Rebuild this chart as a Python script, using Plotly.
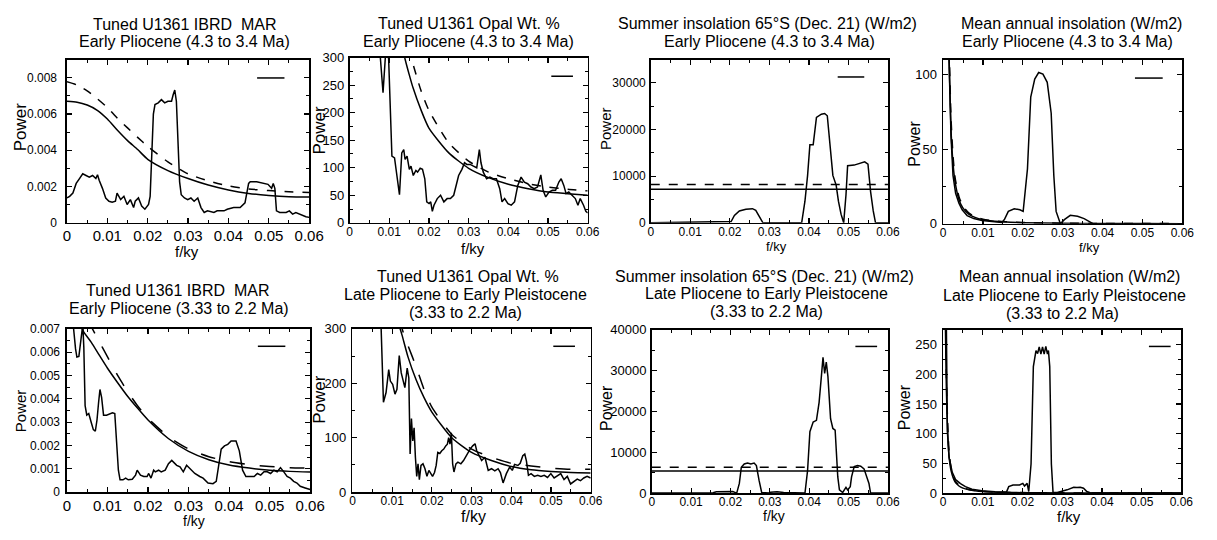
import plotly.graph_objects as go

W, H = 1217, 540
FONT = "Liberation Sans, Arial, sans-serif"

# ---------------- Panel 1: IBRD MAR, Early Pliocene ----------------
p1_freq = [0, 0.00065, 0.00146, 0.00228, 0.00309, 0.0039, 0.00472, 0.00553, 0.00634, 0.00715,
           0.00756, 0.00797, 0.00878, 0.00959, 0.0104, 0.0112, 0.012, 0.0124, 0.0133, 0.0141,
           0.0149, 0.0157, 0.0165, 0.0169, 0.0177, 0.0185, 0.0193, 0.0202, 0.0206, 0.021,
           0.0214, 0.0218, 0.0226, 0.0234, 0.0242, 0.025, 0.0259, 0.0263, 0.0267, 0.0271,
           0.0275, 0.0279, 0.0283, 0.0291, 0.0299, 0.0307, 0.0315, 0.0324, 0.0332, 0.034,
           0.0348, 0.0364, 0.0372, 0.038, 0.0389, 0.0397, 0.0413, 0.0429, 0.0441, 0.045,
           0.0454, 0.047, 0.0486, 0.0498, 0.0507, 0.0511, 0.0515, 0.0519, 0.0527, 0.0543,
           0.0551, 0.0559, 0.0567, 0.0576, 0.0584, 0.0592, 0.06]
p1_power = [0.00137, 0.00146, 0.00164, 0.00217, 0.00244, 0.0027, 0.00261, 0.00252, 0.00261, 0.00244,
            0.00265, 0.00235, 0.0019, 0.00137, 0.00119, 0.00114, 0.00119, 0.00164, 0.00128, 0.00146,
            0.00101, 0.00128, 0.00084, 0.00119, 0.00137, 0.00092, 0.00075, 0.00101, 0.00146, 0.00332,
            0.00599, 0.00652, 0.00661, 0.00679, 0.00661, 0.0067, 0.0067, 0.00706, 0.00732, 0.0067,
            0.00475, 0.00226, 0.00155, 0.00137, 0.00128, 0.00137, 0.00119, 0.00137, 0.00084, 0.00057,
            0.00066, 0.00057, 0.00066, 0.00066, 0.00066, 0.00075, 0.00084, 0.00084, 0.0011, 0.00217,
            0.00226, 0.00226, 0.00217, 0.00212, 0.0019, 0.00217, 0.0019, 0.00066, 0.00057, 0.00057,
            0.00066, 0.00048, 0.00057, 0.00048, 0.00039, 0.00034, 0.0003]
p1_fit_freq = [0, 0.0025, 0.005, 0.0075, 0.01, 0.0125, 0.015, 0.0175, 0.02, 0.025, 0.03, 0.035,
               0.04, 0.045, 0.05, 0.055, 0.06]
p1_fit_solid = [0.0067, 0.00665, 0.00649, 0.0062, 0.00572, 0.0051, 0.00453, 0.00404, 0.0035,
                0.00288, 0.00244, 0.00208, 0.00181, 0.00162, 0.00151, 0.00144, 0.00142]
p1_fit_dashed = [0.00777, 0.00759, 0.00727, 0.00684, 0.00635, 0.00576, 0.00523, 0.00471, 0.00421,
                 0.00336, 0.0027, 0.00231, 0.00203, 0.00187, 0.00178, 0.00171, 0.00167]

# ---------------- Panel 2: Opal Wt. %, Early Pliocene ----------------
p2_freq = [0.00753, 0.00844, 0.00902, 0.00935, 0.00985, 0.01018, 0.01068, 0.01134, 0.012, 0.01258,
           0.01316, 0.01366, 0.01399, 0.01449, 0.01507, 0.01548, 0.01606, 0.01672, 0.01714, 0.0178,
           0.01838, 0.01896, 0.01945, 0.02003, 0.02045, 0.02086, 0.02127, 0.0221, 0.02293, 0.02376,
           0.02459, 0.02541, 0.02624, 0.0269, 0.02748, 0.02831, 0.02897, 0.02955, 0.03038, 0.03121,
           0.03204, 0.0327, 0.03311, 0.03369, 0.03452, 0.03535, 0.03618, 0.037, 0.03783, 0.03841,
           0.03907, 0.0399, 0.04073, 0.04156, 0.04238, 0.04321, 0.04404, 0.04487, 0.0457, 0.04652,
           0.04735, 0.04818, 0.04876, 0.04942, 0.05025, 0.05108, 0.0519, 0.05273, 0.05331, 0.05397,
           0.05455, 0.05522, 0.05604, 0.05687, 0.05753, 0.05811, 0.05894, 0.05952, 0.06]
p2_power = [322, 236, 300, 310, 298, 216, 121, 118, 86, 51,
            127, 133, 115, 121, 97, 103, 86, 95, 92, 99,
            97, 80, 38, 35, 38, 21, 32, 44, 50, 38,
            44, 44, 50, 68, 86, 97, 109, 106, 106, 103,
            100, 133, 109, 92, 80, 83, 80, 80, 62, 38,
            44, 35, 32, 38, 68, 83, 74, 71, 65, 62,
            65, 87, 59, 47, 56, 59, 59, 74, 80, 68,
            53, 56, 50, 44, 32, 44, 32, 21, 18]
p2_fit_freq = [0.013, 0.014, 0.015, 0.016, 0.018, 0.02, 0.025, 0.03, 0.035, 0.04, 0.045, 0.05, 0.055, 0.06]
p2_fit_solid = [330, 297, 270, 245, 205, 172, 127, 99, 82, 70, 62, 56, 53, 50]
p2_fit_dashed = [380, 345, 315, 288, 240, 204, 145, 112, 92, 80, 71, 65, 61, 58]

# ---------------- Panel 3: Summer insolation 65S, Early Pliocene ----------------
p3_freq = [0, 0.01411, 0.02033, 0.02116, 0.02241, 0.02407, 0.02573, 0.02656, 0.0278, 0.02838,
           0.03817, 0.039, 0.03967, 0.04025, 0.04108, 0.04191, 0.04315, 0.04398, 0.04465, 0.04548,
           0.04606, 0.04689, 0.04747, 0.04813, 0.0488, 0.04938, 0.04979, 0.05145, 0.05311, 0.05411,
           0.05494, 0.0556, 0.05627, 0.05685, 0.06]
p3_power = [0, 138, 276, 1589, 2557, 2902, 3040, 2695, 829, 0,
            0, 4630, 10159, 16724, 16724, 22597, 23288, 23426, 22942, 15686,
            10159, 8086, 4630, 1866, 0, 6012, 12231, 12369, 12784, 13060,
            12576, 6702, 2557, 0, 0]
p3_conf_solid = 7200
p3_conf_dashed = 8200

# ---------------- Panel 4: Mean annual insolation, Early Pliocene ----------------
p4_freq = [0.00149, 0.00198, 0.00248, 0.00314, 0.00397, 0.00479, 0.00603, 0.00769, 0.00975, 0.01223,
           0.01471, 0.01537, 0.01636, 0.01785, 0.01926, 0.02008, 0.02116, 0.02198, 0.02298, 0.02397,
           0.02504, 0.02612, 0.02711, 0.02777, 0.02835, 0.02942, 0.03041, 0.0319, 0.03372, 0.03537,
           0.03661, 0.03769, 0.06]
p4_power = [113, 58.6, 32.4, 20.4, 13.8, 9.4, 5.5, 3.5, 2.2, 1.3,
            0.9, 2.8, 8.3, 10.1, 9.4, 8.3, 36.8, 84.9, 96.9, 101.3,
            100.2, 94.7, 74, 32.4, 8.3, 0, 2.8, 5.7, 5, 3.5,
            1.8, 0, 0]
p4_fit_freq = [0.0012, 0.0015, 0.002, 0.0025, 0.003, 0.004, 0.005, 0.0065, 0.008, 0.01, 0.0125,
               0.015, 0.02, 0.03, 0.04, 0.05, 0.06]
p4_fit_solid = [150, 108, 62, 40, 28, 16, 10.5, 6.3, 4.3, 2.8, 1.8, 1.3, 0.75, 0.35, 0.2, 0.13, 0.1]
p4_fit_dashed = [165, 120, 70, 45, 31, 18, 11.8, 7.1, 4.8, 3.1, 2.0, 1.45, 0.85, 0.4, 0.23, 0.15, 0.11]

# ---------------- Panel 5: IBRD MAR, 3.33 to 2.2 Ma ----------------
p5_freq = [0.00065, 0.00163, 0.00211, 0.00244, 0.00293, 0.00333, 0.00366, 0.0039, 0.00415, 0.00447,
           0.00488, 0.00537, 0.00593, 0.0065, 0.00699, 0.0074, 0.0078, 0.00813, 0.00854, 0.00902,
           0.00976, 0.01057, 0.01122, 0.01179, 0.0122, 0.01268, 0.01309, 0.01382, 0.01447, 0.01512,
           0.0161, 0.01691, 0.01732, 0.01813, 0.01894, 0.01976, 0.02016, 0.02073, 0.02138, 0.02179,
           0.0226, 0.02325, 0.02423, 0.02504, 0.02585, 0.02626, 0.02707, 0.02789, 0.0287, 0.02951,
           0.03033, 0.03154, 0.03276, 0.03358, 0.0348, 0.03602, 0.03683, 0.0374, 0.03805, 0.03886,
           0.03967, 0.04049, 0.04171, 0.04252, 0.04333, 0.04415, 0.04496, 0.04618, 0.04699, 0.0478,
           0.04862, 0.04943, 0.05024, 0.05106, 0.05187, 0.05268, 0.0535, 0.05431, 0.05512, 0.05593,
           0.05675, 0.05756, 0.05878, 0.06]
p5_power = [0.00746, 0.007, 0.00614, 0.00579, 0.00582, 0.00635, 0.007, 0.00718, 0.00621, 0.00371,
            0.0033, 0.00337, 0.00302, 0.00268, 0.00261, 0.00309, 0.00385, 0.0044, 0.00406, 0.0033,
            0.0033, 0.00337, 0.0034, 0.00337, 0.00233, 0.00094, 0.00053, 0.00053, 0.0006, 0.00053,
            0.00055, 0.00073, 0.00094, 0.00073, 0.00067, 0.00067, 0.0008, 0.0006, 0.00094, 0.00087,
            0.00094, 0.00087, 0.00094, 0.00122, 0.00136, 0.00129, 0.00115, 0.00108, 0.00087, 0.00115,
            0.00101, 0.0008, 0.00067, 0.0006, 0.00039, 0.00036, 0.00046, 0.00108, 0.00184, 0.00198,
            0.00205, 0.00219, 0.00219, 0.00177, 0.00094, 0.00067, 0.00067, 0.00067, 0.0008, 0.00073,
            0.00087, 0.00087, 0.0008, 0.00094, 0.00087, 0.00105, 0.00087, 0.00067, 0.0006, 0.00046,
            0.00039, 0.00025, 0.00018, 0.00011]
p5_fit_solid_freq = [0.003, 0.004, 0.006, 0.008, 0.01, 0.0125, 0.015, 0.0175, 0.02, 0.025, 0.03,
                     0.035, 0.04, 0.045, 0.05, 0.055, 0.06]
p5_fit_solid = [0.0074, 0.0069, 0.00642, 0.00586, 0.00531, 0.00469, 0.0041, 0.00358, 0.00309,
                0.0023, 0.00175, 0.00139, 0.00116, 0.00103, 0.00094, 0.00089, 0.00086]
p5_fit_dashed_freq = [0.0055, 0.006, 0.0075, 0.01, 0.0125, 0.015, 0.0175, 0.02, 0.025, 0.03,
                      0.035, 0.04, 0.045, 0.05, 0.055, 0.06]
p5_fit_dashed = [0.0074, 0.0071, 0.0066, 0.0058, 0.005, 0.0043, 0.00368, 0.00316, 0.00238,
                 0.00185, 0.00152, 0.00131, 0.00118, 0.0011, 0.00105, 0.00103]

# ---------------- Panel 6: Opal Wt. %, 3.33 to 2.2 Ma ----------------
p6_freq = [0.0068, 0.00722, 0.0078, 0.00846, 0.00913, 0.00954, 0.01012, 0.01071, 0.0112, 0.01178,
           0.01228, 0.01278, 0.0132, 0.01378, 0.01419, 0.01452, 0.01485, 0.01519, 0.01552, 0.01585,
           0.01618, 0.01651, 0.01685, 0.01726, 0.01776, 0.01826, 0.01876, 0.01925, 0.01967, 0.02017,
           0.02066, 0.02108, 0.02149, 0.02199, 0.02249, 0.02299, 0.02349, 0.0239, 0.02423, 0.02456,
           0.0249, 0.02523, 0.02556, 0.02606, 0.02656, 0.0273, 0.02797, 0.0288, 0.02963, 0.03029,
           0.03087, 0.03129, 0.03195, 0.03253, 0.03336, 0.03419, 0.03502, 0.03585, 0.03668, 0.03726,
           0.03793, 0.03876, 0.03959, 0.04025, 0.04083, 0.04166, 0.04224, 0.0429, 0.0434, 0.04382,
           0.04432, 0.04498, 0.04581, 0.04664, 0.04747, 0.0483, 0.04913, 0.04996, 0.05079, 0.05162,
           0.05245, 0.05328, 0.05411, 0.05494, 0.05577, 0.0566, 0.05743, 0.05826, 0.05909, 0.06]
p6_power = [326, 300, 165, 183, 225, 204, 198, 180, 189, 251,
            219, 204, 192, 228, 210, 70, 135, 94, 118, 64,
            29, 52, 23, 49, 52, 43, 29, 40, 34, 29,
            36, 49, 73, 71, 76, 79, 85, 88, 100, 88,
            109, 52, 37, 52, 55, 52, 58, 70, 79, 85,
            89, 76, 67, 58, 64, 40, 43, 39, 43, 36,
            17, 34, 46, 40, 51, 49, 53, 67, 70, 57,
            31, 34, 29, 31, 29, 31, 27, 34, 26, 30,
            34, 23, 29, 15, 20, 24, 21, 26, 29, 26]
p6_fit_freq = [0.012, 0.0125, 0.014, 0.016, 0.018, 0.02, 0.025, 0.03, 0.035, 0.04, 0.045, 0.05, 0.055, 0.06]
p6_fit_solid = [300, 288, 248, 207, 174, 147, 100, 73, 58, 47, 41, 38, 36, 35]
p6_fit_dashed = [320, 300, 269, 231, 189, 156, 106, 79, 64, 53, 48, 44, 42, 42]

# ---------------- Panel 7: Summer insolation 65S, 3.33 to 2.2 Ma ----------------
p7_freq = [0, 0.01558, 0.01642, 0.01808, 0.02058, 0.02158, 0.02225, 0.02275, 0.0235, 0.02433,
           0.02517, 0.026, 0.02658, 0.02725, 0.02792, 0.02975, 0.03017, 0.03183, 0.0335, 0.03892,
           0.03958, 0.04017, 0.041, 0.04183, 0.0425, 0.04308, 0.0435, 0.04392, 0.04433, 0.04475,
           0.04542, 0.046, 0.04658, 0.04725, 0.04767, 0.0485, 0.04933, 0.04975, 0.05042, 0.05075,
           0.05142, 0.05225, 0.05308, 0.05392, 0.05458, 0.05517, 0.05558, 0.06]
p7_power = [0, 79, 317, 396, 396, 0, 2376, 6336, 7128, 7366,
            7128, 7366, 6732, 3168, 158, 0, 238, 317, 158, 0,
            5544, 15048, 17424, 17820, 22176, 28512, 33264, 29304, 32076, 28512,
            18216, 15840, 15444, 3960, 792, 158, 1426, 792, 1584, 4000,
            6494, 6732, 6574, 5940, 3960, 2376, 0, 0]
p7_conf_solid = 5386
p7_conf_dashed = 6336

# ---------------- Panel 8: Mean annual insolation, 3.33 to 2.2 Ma ----------------
p8_freq = [0.0005, 0.00083, 0.00107, 0.00149, 0.00231, 0.00314, 0.00438, 0.00562, 0.00727, 0.00975,
           0.01306, 0.01595, 0.01653, 0.0176, 0.01926, 0.02008, 0.0205, 0.02116, 0.02157, 0.02215,
           0.02273, 0.02339, 0.0238, 0.02421, 0.02463, 0.02504, 0.02545, 0.02587, 0.02628, 0.02653,
           0.02686, 0.02727, 0.02769, 0.02876, 0.03124, 0.03207, 0.03289, 0.03372, 0.03455, 0.03537,
           0.0362, 0.03702, 0.06]
p8_power = [295, 276, 104, 60, 35, 23, 16, 11, 6.6, 3.8,
            2.2, 1.6, 10.9, 13.6, 13.6, 16.4, 12, 16.4, 2.7, 49,
            213, 240, 235, 246, 234, 246, 234, 247, 234, 240,
            213, 49, 1.1, 1.1, 5.5, 8.2, 9.8, 9.3, 9.8, 8.2,
            2.7, 0.5, 0]
p8_fit_freq = [0.0005, 0.00075, 0.001, 0.0015, 0.002, 0.003, 0.004, 0.005, 0.0065, 0.008, 0.01,
               0.0125, 0.015, 0.02, 0.03, 0.04, 0.05, 0.06]
p8_fit_solid = [320, 200, 130, 62, 38, 19, 12, 8.3, 5.5, 3.9, 2.6, 1.8, 1.3, 0.8, 0.4, 0.25, 0.17, 0.12]
p8_fit_dashed = [360, 225, 146, 70, 43, 21, 13.4, 9.3, 6.2, 4.4, 2.9, 2.0, 1.5, 0.9, 0.45, 0.28, 0.19, 0.13]

X_TICK_VALUES = [0, 0.01, 0.02, 0.03, 0.04, 0.05, 0.06]

# ---------------- layout description (positions in px) ----------------
panels = [
    dict(box=(64, 310, 54, 222), yr=[0, 0.009], dt=0.002, mdt=0.001, fmt="", xts=15, yts=12, stand=6, xstand=-1,
         titles=[("Tuned U1361 IBRD  MAR", 183, 18), ("Early Pliocene (4.3 to 3.4 Ma)", 183, 36)],
         xl=(186, 251, 15), yl=(17, 123, 17), leg=(0.785, 0.898, 0.887)),
    dict(box=(351, 593, 52, 222), yr=[0, 300], dt=50, mdt=25, fmt="", xts=12, yts=13, stand=1, xstand=-3,
         titles=[("Tuned U1361 Opal Wt. %", 472, 17), ("Early Pliocene (4.3 to 3.4 Ma)", 472, 35)],
         xl=(476, 248, 15), yl=(320, 127, 17), leg=(0.847, 0.938, 0.887)),
    dict(box=(657, 898, 54, 222), yr=[0, 35000], dt=10000, mdt=5000, fmt="d", xts=12, yts=12, stand=1, xstand=-3,
         titles=[("Summer insolation 65°S (Dec. 21) (W/m2)", 776, 17), ("Early Pliocene (4.3 to 3.4 Ma)", 778, 35)],
         xl=(785, 246, 13), yl=(611, 125, 15), leg=(0.788, 0.900, 0.893)),
    dict(box=(954, 1197, 54, 223), yr=[0, 110], dt=50, mdt=25, fmt="", xts=12, yts=13, stand=2, xstand=-3,
         titles=[("Mean annual insolation (W/m2)", 1084, 17), ("Early Pliocene (4.3 to 3.4 Ma)", 1080, 35)],
         xl=(1103, 247, 13), yl=(925, 141, 16), leg=(0.802, 0.918, 0.887)),
    dict(box=(64, 311, 331, 499), yr=[0, 0.007], dt=0.001, mdt=0.0005, fmt="", xts=15, yts=12, stand=3, xstand=-1,
         titles=[("Tuned U1361 IBRD  MAR", 176, 292), ("Early Pliocene (3.33 to 2.2 Ma)", 178, 310)],
         xl=(193, 529, 14), yl=(17, 415, 15), leg=(0.785, 0.898, 0.893)),
    dict(box=(354, 596, 331, 499), yr=[0, 300], dt=100, mdt=50, fmt="", xts=12, yts=13, stand=2, xstand=-3,
         titles=[("Tuned U1361 Opal Wt. %", 471, 277), ("Late Pliocene to Early Pleistocene", 469, 296),
                 ("(3.33 to 2.2 Ma)", 469, 314)],
         xl=(477, 524, 16), yl=(321, 403, 17), leg=(0.843, 0.934, 0.893)),
    dict(box=(658, 898, 332, 500), yr=[0, 40000], dt=10000, mdt=5000, fmt="d", xts=12, yts=13, stand=1, xstand=-3,
         titles=[("Summer insolation 65°S (Dec. 21) (W/m2)", 773, 277), ("Late Pliocene to Early Pleistocene", 775, 295),
                 ("(3.33 to 2.2 Ma)", 775, 313)],
         xl=(782, 524, 14), yl=(612, 412, 16), leg=(0.862, 0.954, 0.898)),
    dict(box=(954, 1196, 332, 500), yr=[0, 275], dt=50, mdt=25, fmt="", xts=12, yts=13, stand=2, xstand=-3,
         titles=[("Mean annual insolation (W/m2)", 1082, 277), ("Late Pliocene to Early Pleistocene", 1077, 297),
                 ("(3.33 to 2.2 Ma)", 1075, 315)],
         xl=(1082, 524, 15), yl=(915, 412, 16), leg=(0.864, 0.955, 0.898)),
]

# series per panel: (x, y, dash, spline)
series = [
    [(p1_freq, p1_power, "solid", False), (p1_fit_freq, p1_fit_solid, "solid", True),
     (p1_fit_freq, p1_fit_dashed, "dash", True)],
    [(p2_freq, p2_power, "solid", False), (p2_fit_freq, p2_fit_solid, "solid", True),
     (p2_fit_freq, p2_fit_dashed, "dash", True)],
    [(p3_freq, p3_power, "solid", False),
     ([p3_freq[0], p3_freq[-1]], [p3_conf_solid, p3_conf_solid], "solid", False),
     ([p3_freq[0], p3_freq[-1]], [p3_conf_dashed, p3_conf_dashed], "dash", False)],
    [(p4_freq, p4_power, "solid", False), (p4_fit_freq, p4_fit_solid, "solid", True),
     (p4_fit_freq, p4_fit_dashed, "dash", True)],
    [(p5_freq, p5_power, "solid", False), (p5_fit_solid_freq, p5_fit_solid, "solid", True),
     (p5_fit_dashed_freq, p5_fit_dashed, "longdash", True)],
    [(p6_freq, p6_power, "solid", False), (p6_fit_freq, p6_fit_solid, "solid", True),
     (p6_fit_freq, p6_fit_dashed, "longdash", True)],
    [(p7_freq, p7_power, "solid", False),
     ([p7_freq[0], p7_freq[-1]], [p7_conf_solid, p7_conf_solid], "solid", False),
     ([p7_freq[0], p7_freq[-1]], [p7_conf_dashed, p7_conf_dashed], "dash", False)],
    [(p8_freq, p8_power, "solid", False), (p8_fit_freq, p8_fit_solid, "solid", True),
     (p8_fit_freq, p8_fit_dashed, "dash", True)],
]

fig = go.Figure()
layout = dict(
    width=W, height=H, margin=dict(l=0, r=0, t=0, b=0),
    paper_bgcolor="white", plot_bgcolor="white", showlegend=False,
    font=dict(family=FONT, color="black"),
)
annotations = []
shapes = []


def px(x):
    return x / W


def py(y):
    return 1 - y / H


for i, (p, ser) in enumerate(zip(panels, series), start=1):
    sfx = "" if i == 1 else str(i)
    x0, x1, y0, y1 = p["box"]
    for xs, ys, dash, spline in ser:
        fig.add_trace(go.Scatter(
            x=xs, y=ys, mode="lines", xaxis="x" + sfx, yaxis="y" + sfx,
            line=dict(color="black", width=1.5, dash=dash, shape="spline" if spline else "linear",
                      smoothing=0.6 if spline else 0),
            hoverinfo="skip", showlegend=False))
    common = dict(showline=True, linecolor="black", linewidth=1.6, mirror="ticks",
                  ticks="inside", ticklen=5, tickwidth=1.2, tickcolor="black",
                  showgrid=False, zeroline=False, color="black")
    layout["xaxis" + sfx] = dict(
        common, domain=[px(x0), px(x1)], anchor="y" + sfx, range=[0, 0.06],
        tickmode="array", tickvals=X_TICK_VALUES, ticklabelstandoff=p["xstand"],
        minor=dict(dtick=0.005, tick0=0, ticks="inside", ticklen=3, tickwidth=1, tickcolor="black", showgrid=False),
        tickfont=dict(family=FONT, size=p["xts"], color="black"))
    layout["yaxis" + sfx] = dict(
        common, domain=[py(y1), py(y0)], anchor="x" + sfx, range=p["yr"],
        tick0=0, dtick=p["dt"], tickformat=p["fmt"], ticklabelstandoff=p["stand"],
        minor=dict(dtick=p["mdt"], tick0=0, ticks="inside", ticklen=3, tickwidth=1, tickcolor="black", showgrid=False),
        tickfont=dict(family=FONT, size=p["yts"], color="black"))
    for text, cx, cy in p["titles"]:
        annotations.append(dict(text=text, x=px(cx), y=py(cy), xref="paper", yref="paper",
                                xanchor="center", yanchor="middle", showarrow=False,
                                font=dict(family=FONT, size=16, color="black")))
    cx, cy, fs = p["xl"]
    annotations.append(dict(text="f/ky", x=px(cx), y=py(cy), xref="paper", yref="paper",
                            xanchor="center", yanchor="middle", showarrow=False,
                            font=dict(family=FONT, size=fs, color="black")))
    cx, cy, fs = p["yl"]
    annotations.append(dict(text="Power", x=px(cx), y=py(cy), xref="paper", yref="paper",
                            xanchor="center", yanchor="middle", showarrow=False, textangle=-90,
                            font=dict(family=FONT, size=fs, color="black")))
    lx0, lx1, ly = p["leg"]
    shapes.append(dict(type="line", xref="x" + sfx + " domain", yref="y" + sfx + " domain",
                       x0=lx0, x1=lx1, y0=ly, y1=ly, line=dict(color="black", width=1.5)))

layout["annotations"] = annotations
layout["shapes"] = shapes
fig.update_layout(**layout)
fig.write_html("out.html",
               config={"displayModeBar": False, "staticPlot": True},
               post_script="document.body.style.margin='0px';document.body.style.padding='0px';")
